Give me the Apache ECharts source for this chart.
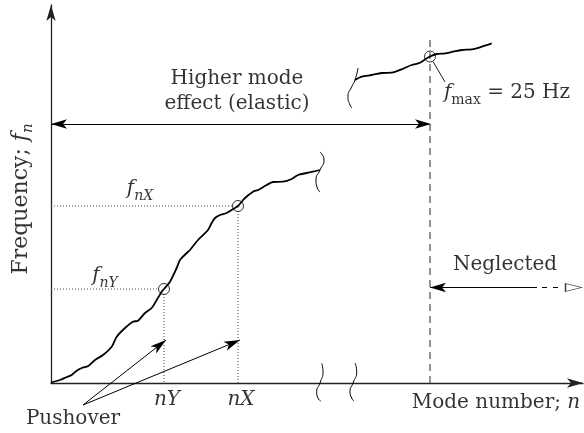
<!DOCTYPE html>
<html>
<head>
<meta charset="utf-8">
<script src="https://cdn.jsdelivr.net/npm/echarts@6/dist/echarts.min.js"></script>
<style>
  html, body { margin: 0; padding: 0; background: #fff; }
  #chart { width: 584px; height: 433px; }
</style>
</head>
<body>
<div id="chart"></div>
<script>
// Modal frequency f_n against mode number n, schematic units (origin at 0,0).

// Lower branch of the frequency curve (first modes)
const lowerCurve = [
  [0, 0.5], [9, 3], [15.7, 6], [20.7, 8], [25.7, 12.3], [30.7, 15], [37.3, 17],
  [44, 23], [52, 28], [60.7, 36.3], [65.7, 46.3], [74, 55], [82, 61.3], [87, 62.3],
  [94, 70], [100.7, 75], [105.7, 83], [110.7, 91.3], [113, 94], [119, 101.3],
  [125.7, 115], [129, 123], [135.7, 130], [139, 133], [147, 143], [157, 153],
  [160.7, 160], [164, 165], [169, 168], [175.7, 170], [184, 175], [187, 177],
  [194, 185], [202, 191.3], [207, 193], [215.7, 198], [222, 201], [232, 201.3],
  [240.7, 204], [247, 208], [255.7, 210], [262, 211.3], [269, 213]
];
// Upper branch of the frequency curve (highest modes)
const upperCurve = [
  [304, 303], [310.7, 306.3], [320.7, 308], [330.7, 310], [340.7, 310.3],
  [350.7, 313.7], [360.7, 318], [369, 320.3], [375.7, 324.7], [379, 326.5],
  [385.7, 329], [394, 329.7], [402, 331.3], [410.7, 333], [420.7, 333.7],
  [430.7, 336.3], [440.7, 339.7]
];
// Break marks
const lowerBreak = [[269, 231], [273, 223], [269, 213], [265, 203], [266, 196], [269, 191]];
const upperBreak = [[307, 315], [304, 303], [300.7, 296.3], [297, 286.3], [299, 278], [301, 275]];
const axisBreakA = [[270.7, 19.7], [272, 11.3], [269, 0], [265.7, -8.7], [267, -15], [269.7, -18]];
const axisBreakB = [[304, 20], [305.7, 11.3], [302, 0], [299, -8.7], [300.7, -15], [303, -18]];

// Marked modes: (nY, f_nY), (nX, f_nX) and the cut-off mode at f_max
const pushoverModes = [[113, 94], [187, 177]];
const fmaxPoint = [379, 326.5];
const fmaxLimit = 343;

// Text annotations (rich-text markup, anchor = text centre)
const notes = [
  { text: '{rm|Higher mode}', at: [186, 304] },
  { text: '{rm|effect (elastic)}', at: [186, 279] },
  { text: '{it|f}{sub|nX}', at: [89, 194] },
  { text: '{it|f}{sub|nY}', at: [54, 107] },
  { text: '{it|nY}', at: [116, -17] },
  { text: '{it|nX}', at: [190, -17] },
  { text: '{rm|Pushover}', at: [22, -36] },
  { text: '{rm|Mode number; }{it|n}', at: [445, -20] },
  { text: '{rm|Neglected}', at: [454, 118] },
  { text: '{it|f}{subrm|max}{rm| = 25 Hz}', at: [456, 290] }
];
// Vertical axis title
const yTitle = { text: '{ry|Frequency; }{iy|f}{suby|n}', at: [-30, 184] };

const SERIF = 'DejaVu Serif';
const RICH = {
  rm: { fontFamily: SERIF, fontSize: 20, color: '#000', lineHeight: 28 },
  it: { fontFamily: SERIF, fontSize: 20, fontStyle: 'italic', color: '#000', lineHeight: 28 },
  sub: { fontFamily: SERIF, fontSize: 14, fontStyle: 'italic', color: '#000', lineHeight: 14, verticalAlign: 'bottom' },
  subrm: { fontFamily: SERIF, fontSize: 14, color: '#000', lineHeight: 14, verticalAlign: 'bottom' },
  ry: { fontFamily: SERIF, fontSize: 22, color: '#000', lineHeight: 30 },
  iy: { fontFamily: SERIF, fontSize: 22, fontStyle: 'italic', color: '#000', lineHeight: 30 },
  suby: { fontFamily: SERIF, fontSize: 15, fontStyle: 'italic', color: '#000', lineHeight: 15, verticalAlign: 'bottom' }
};

const ARROW = [7, 16];

const pushTail = [32, -22];
const pushTips = pushoverModes.map(p => [p[0] + 2, 43]);

function plain(data, style, extra) {
  return Object.assign({
    type: 'line', data: data, symbol: 'none', silent: true, clip: false,
    lineStyle: Object.assign({ color: '#000', width: 1 }, style)
  }, extra || {});
}

function arrows(segs, ends, width) {
  return {
    type: 'lines', coordinateSystem: 'cartesian2d', silent: true, clip: false,
    symbol: ends, symbolSize: [ARROW, ARROW],
    lineStyle: { color: '#000', width: width, opacity: 1 },
    data: segs.map(s => ({ coords: s }))
  };
}

const chart = echarts.init(document.getElementById('chart'), null, { renderer: 'canvas' });
chart.setOption({
  animation: false,
  backgroundColor: '#fff',
  grid: { left: 51, right: 1, top: 5, bottom: 50 },
  xAxis: {
    type: 'value', min: 0, max: 532,
    axisLine: { show: true, symbol: ['none', 'arrow'], symbolSize: ARROW, lineStyle: { color: '#222', width: 1.3 } },
    axisTick: { show: false }, axisLabel: { show: false }, splitLine: { show: false }
  },
  yAxis: {
    type: 'value', min: 0, max: 378,
    axisLine: { show: true, symbol: ['none', 'arrow'], symbolSize: ARROW, lineStyle: { color: '#222', width: 1.3 } },
    axisTick: { show: false }, axisLabel: { show: false }, splitLine: { show: false }
  },
  series: [
    // cut-off line at f_max
    plain([[fmaxPoint[0], 0], [fmaxPoint[0], fmaxLimit]], { color: '#707070', width: 1.5, type: [7, 5] }),
    // dotted guides to the marked modes
    ...pushoverModes.map(p => plain([[0, p[1]], [p[0] - 5, p[1]]], { color: '#444', width: 1, type: [1, 2] })),
    ...pushoverModes.map(p => plain([[p[0], p[1] - 5], [p[0], 0]], { color: '#444', width: 1, type: [1, 2] })),
    // frequency curves and break marks
    plain(lowerCurve, { width: 1.8 }, { smooth: 0.3 }),
    plain(upperCurve, { width: 1.8 }, { smooth: 0.3 }),
    plain(lowerBreak, { width: 1 }, { smooth: 0.6 }),
    plain(upperBreak, { width: 1 }, { smooth: 0.6 }),
    plain(axisBreakA, { width: 1 }, { smooth: 0.6 }),
    plain(axisBreakB, { width: 1 }, { smooth: 0.6 }),
    // leader to the f_max label
    plain([[fmaxPoint[0] + 3, fmaxPoint[1] - 5], [394, 301]], { width: 0.9 }),
    // dashed tail of the "Neglected" arrow
    plain([[491, 95.5], [509, 95.5]], { width: 1, type: [5, 6] }),
    // arrows
    arrows([[[0, 259], [fmaxPoint[0] + 1, 259]]], ['arrow', 'arrow'], 1.2),
    arrows([[[fmaxPoint[0], 95.5], [486, 95.5]]], ['arrow', 'none'], 1.2),
    arrows(pushTips.map(t => [pushTail, t]), ['none', 'arrow'], 1),
    // open arrowhead of the "Neglected" arrow
    {
      type: 'scatter', silent: true, clip: false, symbol: 'triangle', symbolRotate: -90,
      symbolSize: [8, 16],
      itemStyle: { color: '#fff', borderColor: '#000', borderWidth: 1 },
      data: [[522.5, 95.5]]
    },
    // hollow markers
    {
      type: 'scatter', silent: true, clip: false, symbol: 'circle', symbolSize: 11, z: 5,
      itemStyle: { color: 'rgba(0,0,0,0)', borderColor: '#000', borderWidth: 1 },
      data: pushoverModes.concat([fmaxPoint])
    },
    // text
    {
      type: 'scatter', silent: true, clip: false, symbolSize: 0, z: 6,
      label: { show: true, position: 'inside', rich: RICH },
      data: notes.map(n => ({ value: n.at, label: { formatter: n.text } })).concat([
        { value: yTitle.at, label: { formatter: yTitle.text, rotate: 90 } }
      ])
    }
  ]
});
</script>
</body>
</html>
